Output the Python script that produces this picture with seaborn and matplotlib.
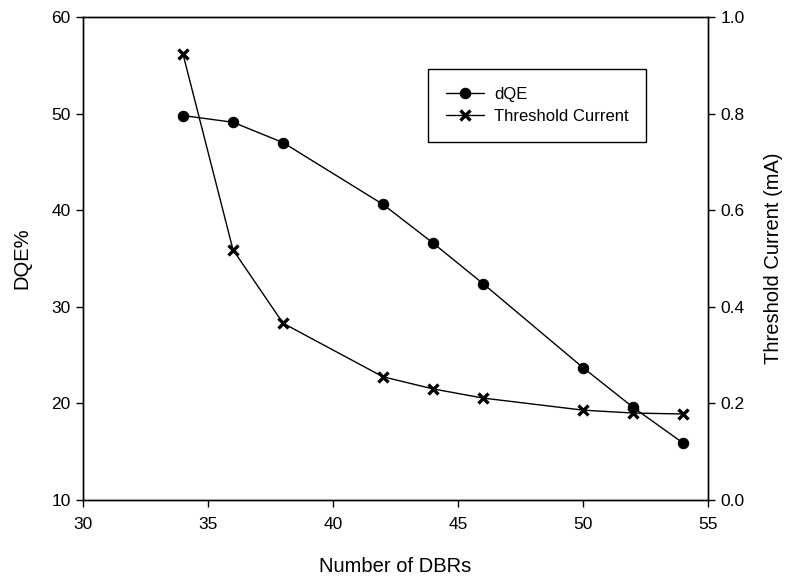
import matplotlib
matplotlib.use("Agg")
import matplotlib.pyplot as plt
import seaborn as sns
import pandas as pd

dbrs = [34, 36, 38, 42, 44, 46, 50, 52, 54]
dqe = [49.8, 49.1, 47.0, 40.6, 36.6, 32.4, 23.7, 19.6, 15.9]
ith = [0.923, 0.518, 0.366, 0.255, 0.230, 0.211, 0.186, 0.180, 0.178]

sns.set_style("ticks")
plt.rcParams['font.family'] = ['Liberation Sans', 'DejaVu Sans']
plt.rcParams['text.color'] = 'black'
plt.rcParams['axes.labelcolor'] = 'black'

df1 = pd.DataFrame({"x": dbrs, "y": dqe})
df2 = pd.DataFrame({"x": dbrs, "y": ith})

fig = plt.figure(figsize=(7.87, 5.78), dpi=100)
ax = fig.add_axes([0.1055, 0.135, 0.7941, 0.8356])
ax2 = ax.twinx()

sns.lineplot(data=df1, x="x", y="y", ax=ax, color="black", lw=1,
             marker="o", markersize=7.5, markeredgecolor="black", label="dQE", legend=False)
sns.lineplot(data=df2, x="x", y="y", ax=ax2, color="black", lw=1,
             marker="x", markersize=7, markeredgewidth=2.4, markeredgecolor="black",
             label="Threshold Current", legend=False)

ax.set_xlim(30, 55)
ax.set_ylim(10, 60)
ax2.set_ylim(0, 1.0)
ax.set_xticks([30, 35, 40, 45, 50, 55])
ax.set_yticks([10, 20, 30, 40, 50, 60])
ax2.set_yticks([0, 0.2, 0.4, 0.6, 0.8, 1.0])
ax2.set_yticklabels(["0.0", "0.2", "0.4", "0.6", "0.8", "1.0"])

for a in (ax, ax2):
    for s in a.spines.values():
        s.set_visible(True)
        s.set_color("black")
        s.set_linewidth(1)
    a.tick_params(direction="out", length=5, width=1, color="black", labelsize=12.5,
                  labelcolor="black", pad=4)

ax.set_xlabel("Number of DBRs", fontsize=14.5, labelpad=18)
ax.set_ylabel("DQE%", fontsize=14.5, labelpad=14)
ax2.set_ylabel("Threshold Current (mA)", fontsize=14.5, labelpad=14)
ax.tick_params(axis="x", pad=7)

h1, l1 = ax.get_legend_handles_labels()
h2, l2 = ax2.get_legend_handles_labels()
leg = ax2.legend(h1 + h2, l1 + l2, loc="upper left", bbox_to_anchor=(0.552, 0.892),
                 fancybox=False, shadow=False, edgecolor="black", fontsize=12,
                 borderpad=1.05, handlelength=2.3, handletextpad=0.6,
                 labelspacing=0.45, framealpha=1, borderaxespad=0)
leg.get_frame().set_linewidth(1)

fig.savefig("out.png", dpi=100)
